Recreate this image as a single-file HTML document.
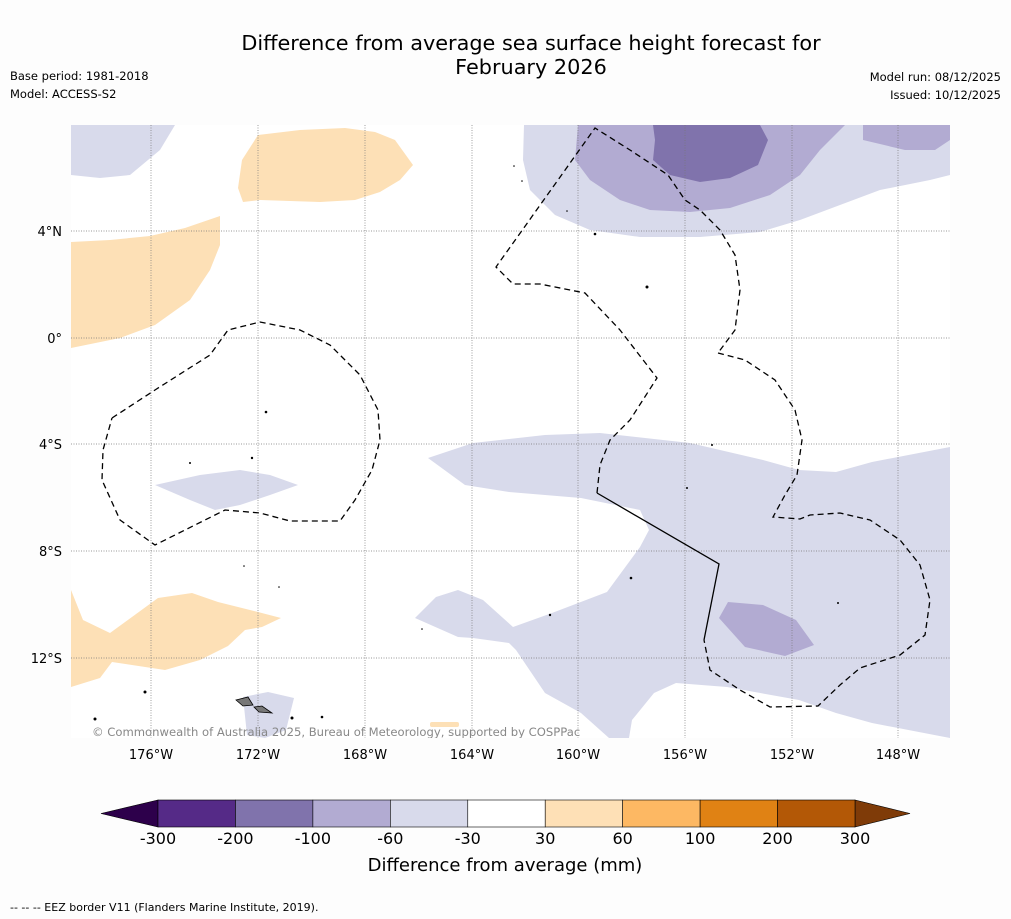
<!DOCTYPE html>
<html><head><meta charset="utf-8"><style>
body{margin:0;background:#fdfdfd;font-family:"Liberation Sans","DejaVu Sans",sans-serif}
svg{display:block}
</style></head><body>
<svg id="root" width="1011" height="919" viewBox="0 0 1011 919" xmlns="http://www.w3.org/2000/svg">
<rect width="1011" height="919" fill="#fdfdfd"/>
<g font-family="DejaVu Sans, Liberation Sans, sans-serif">
<text x="531" y="50" font-size="20.8" text-anchor="middle">Difference from average sea surface height forecast for</text>
<text x="531" y="74" font-size="20.8" text-anchor="middle">February 2026</text>
<text x="10" y="80" font-size="11.5">Base period: 1981-2018</text>
<text x="10" y="98" font-size="11.5">Model: ACCESS-S2</text>
<text x="1001" y="81" font-size="11.5" text-anchor="end">Model run: 08/12/2025</text>
<text x="1001" y="99" font-size="11.5" text-anchor="end">Issued: 10/12/2025</text>
</g>
<svg x="71" y="125" width="879" height="613" viewBox="71 125 879 613" overflow="hidden">
<rect x="71" y="125" width="879" height="613" fill="#fff"/>
<g>
<polygon fill="#d8daeb" points="71,125 175,125 160,150 130,175 100,178 71,175"/>
<polygon fill="#fde0b6" points="258,135 300,130 345,128 375,132 395,140 413,165 400,180 380,192 355,200 320,202 260,200 243,202 238,188 242,160"/>
<polygon fill="#fde0b6" points="71,242 110,240 150,236 185,228 220,216 220,245 210,270 190,300 155,325 120,338 71,348"/>
<polygon fill="#d8daeb" points="524,125 950,125 950,175 930,180 880,190 840,205 800,220 760,232 700,237 640,237 590,230 555,215 530,190 523,160"/>
<polygon fill="#b2abd2" points="578,125 845,125 835,135 820,150 800,175 770,195 730,208 690,212 650,210 620,200 590,180 575,160"/>
<polygon fill="#8073ac" points="653,125 760,125 768,140 758,165 730,178 700,182 670,175 653,160 655,140"/>
<polygon fill="#b2abd2" points="863,125 950,125 950,140 935,150 905,150 863,140"/>
<polygon fill="#d8daeb" points="155,485 200,475 240,470 270,475 298,485 270,495 240,505 215,510 190,500"/>
<polygon fill="#d8daeb" points="428,458 473,443 545,435 600,433 690,443 763,460 799,470 836,472 872,462 950,447 950,738 872,723 836,713 799,700 727,687 676,683 654,693 632,720 629,738 609,738 581,713 545,693 516,650 509,643 473,638 458,637 415,618 436,597 458,590 483,600 513,627 552,613 607,592 640,547 649,530 640,510 581,498 509,492 465,485"/>
<polygon fill="#b2abd2" points="728,602 763,605 796,620 814,645 785,656 745,647 719,618"/>
<polygon fill="#fde0b6" points="71,590 83,620 110,633 158,598 192,593 218,602 258,612 281,618 262,627 245,630 228,646 200,660 165,670 112,662 100,678 71,687"/>
<polygon fill="#d8daeb" points="243,697 268,692 294,698 286,730 265,738 247,735"/>
<rect x="430" y="722" width="29" height="5" rx="2" fill="#fde0b6"/>
</g>
<g stroke="#777" stroke-width="0.7" stroke-dasharray="1,1.5">
<line x1="151" y1="125" x2="151" y2="738"/><line x1="258" y1="125" x2="258" y2="738"/><line x1="365" y1="125" x2="365" y2="738"/><line x1="472" y1="125" x2="472" y2="738"/><line x1="578" y1="125" x2="578" y2="738"/><line x1="685" y1="125" x2="685" y2="738"/><line x1="792" y1="125" x2="792" y2="738"/><line x1="898" y1="125" x2="898" y2="738"/>
<line x1="71" y1="231" x2="950" y2="231"/><line x1="71" y1="338" x2="950" y2="338"/><line x1="71" y1="444" x2="950" y2="444"/><line x1="71" y1="551" x2="950" y2="551"/><line x1="71" y1="658" x2="950" y2="658"/>
</g>
<g fill="none" stroke="#000" stroke-width="1.3" stroke-dasharray="6,4">
<polyline points="112,418 155,390 210,355 228,330 260,322 300,330 330,345 360,375 378,410 380,440 372,470 355,500 340,521 290,521 260,513 225,510 155,545 120,520 102,480 103,450 112,418"/>
<polyline points="597,493 600,465 610,440 630,420 657,378 620,330 585,293 540,284 513,284 496,267 595,128 630,150 668,175 685,200 700,210 720,230 735,255 740,290 735,330 718,353"/>
<polyline points="718,353 745,360 775,380 795,410 802,440 797,475 785,495 773,517 800,519 810,515 840,513 870,520 900,540 920,565 930,600 925,635 900,655 860,668 840,685 818,706 770,707 740,690 710,670 704,640"/>
</g>
<polyline points="597,493 719,564 704,640" fill="none" stroke="#000" stroke-width="1.3"/>
<g fill="#000">
<polygon points="236,700 248,697 253,705 243,706" fill="#777" stroke="#000" stroke-width="0.8"/>
<polygon points="254,707 262,706 272,713 259,712" fill="#777" stroke="#000" stroke-width="0.8"/>
<circle cx="145" cy="692" r="1.5"/><circle cx="95" cy="719" r="1.5"/><circle cx="292" cy="718" r="1.5"/><circle cx="322" cy="717" r="1.3"/>
<circle cx="266" cy="412" r="1.3"/><circle cx="252" cy="458" r="1.2"/><circle cx="190" cy="463" r="1"/><circle cx="647" cy="287" r="1.5"/><circle cx="595" cy="234" r="1.3"/>
<circle cx="631" cy="578" r="1.3"/><circle cx="550" cy="615" r="1.2"/><circle cx="687" cy="488" r="1"/><circle cx="712" cy="445" r="1"/><circle cx="838" cy="603" r="1"/>
<circle cx="514" cy="166" r="0.8"/><circle cx="522" cy="181" r="0.8"/><circle cx="567" cy="211" r="0.8"/><circle cx="244" cy="566" r="0.8"/><circle cx="279" cy="587" r="0.8"/><circle cx="422" cy="629" r="0.8"/>
</g>
<text x="92" y="736" font-size="11.6" fill="#888" font-family="DejaVu Sans, Liberation Sans, sans-serif">© Commonwealth of Australia 2025, Bureau of Meteorology, supported by COSPPac</text>
</svg>
<g font-size="13" font-family="DejaVu Sans, Liberation Sans, sans-serif">
<text x="151" y="759" text-anchor="middle">176°W</text><text x="258" y="759" text-anchor="middle">172°W</text><text x="365" y="759" text-anchor="middle">168°W</text><text x="472" y="759" text-anchor="middle">164°W</text><text x="578" y="759" text-anchor="middle">160°W</text><text x="685" y="759" text-anchor="middle">156°W</text><text x="792" y="759" text-anchor="middle">152°W</text><text x="898" y="759" text-anchor="middle">148°W</text>
<text x="62" y="236" text-anchor="end">4°N</text><text x="62" y="343" text-anchor="end">0°</text><text x="62" y="449" text-anchor="end">4°S</text><text x="62" y="556" text-anchor="end">8°S</text><text x="62" y="663" text-anchor="end">12°S</text>
</g>
<g id="cbar"></g>
<text x="505" y="871" font-size="18" text-anchor="middle" font-family="DejaVu Sans, Liberation Sans, sans-serif">Difference from average (mm)</text>
<text x="10" y="911" font-size="11" font-family="DejaVu Sans, Liberation Sans, sans-serif">--  --  -- EEZ border V11 (Flanders Marine Institute, 2019).</text>
</svg>
<script>
const bounds = [-300,-200,-100,-60,-30,30,60,100,200,300];
const binColors = ["#552a87","#8073ac","#b2abd2","#d8daeb","#ffffff","#fee0b6","#fdb863","#e08214","#b35806"];
const extColors = ["#2d004b","#7f3b08"];
const NS="http://www.w3.org/2000/svg";
const g=document.getElementById('cbar');
const x0=158,x1=855,y0=800,h=27,w=(x1-x0)/(bounds.length-1);
const xi=i=>x0+i*w;
function mk(t,a){const e=document.createElementNS(NS,t);for(const k in a)e.setAttribute(k,a[k]);g.appendChild(e);return e;}
let p=mk('polygon',{points:`${x0},${y0} ${x0},${y0+h} 101,${y0+h/2}`,fill:extColors[0],stroke:'#000','stroke-width':0.6});


p=mk('polygon',{points:`${x1},${y0} ${x1},${y0+h} 910,${y0+h/2}`,fill:extColors[1],stroke:'#000','stroke-width':0.6});


binColors.forEach((c,i)=>{
 const r=mk('rect',{x:xi(i),y:y0,width:w,height:h,fill:c,stroke:'#000','stroke-width':0.6});
 
 
});
bounds.forEach((b,i)=>{
 const t=mk('text',{x:xi(i),y:844,'font-size':16,'text-anchor':'middle','font-family':'DejaVu Sans, Liberation Sans, sans-serif'});
 t.textContent=b;
 
 
});
</script>
</body></html>
